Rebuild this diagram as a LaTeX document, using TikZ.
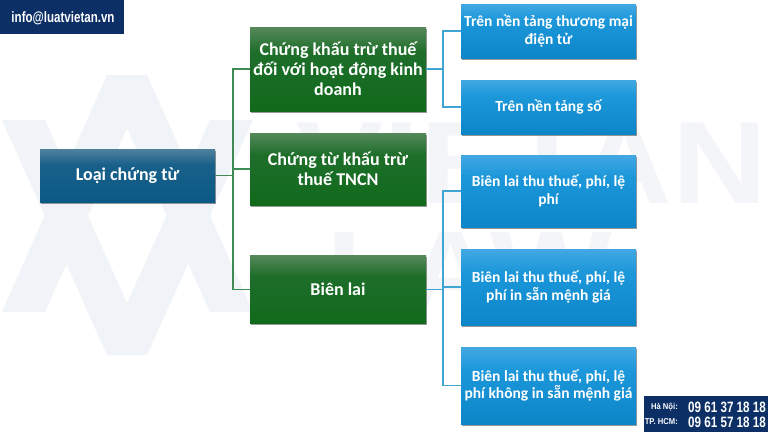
\documentclass[tikz,border=0pt]{standalone}
\usepackage{fontspec}
\setmainfont{Carlito}
\newfontfamily\wmfont{Liberation Sans}
\newfontfamily\ctfont{Liberation Sans}
\usetikzlibrary{shadows,calc}
\definecolor{wm}{HTML}{F0F3F7}
\definecolor{wmb}{HTML}{F3F5F8}
\definecolor{navy}{HTML}{0C2F66}
\definecolor{lgreen}{HTML}{3F8A55}
\definecolor{lblue}{HTML}{3FA6D4}
\definecolor{r1}{HTML}{4F819D}
\definecolor{r2}{HTML}{18608A}
\definecolor{r3}{HTML}{0A5A85}
\definecolor{g1}{HTML}{56885A}
\definecolor{g2}{HTML}{1E6E2A}
\definecolor{g3}{HTML}{116A1C}
\definecolor{b1}{HTML}{43A8E2}
\definecolor{b2}{HTML}{1B97DA}
\definecolor{b3}{HTML}{0D86C8}
\pgfdeclareverticalshading{rootsh}{100bp}{color(0bp)=(r3); color(25bp)=(r3); color(60bp)=(r2); color(75bp)=(r1); color(100bp)=(r1)}
\pgfdeclareverticalshading{greensh}{100bp}{color(0bp)=(g3); color(25bp)=(g3); color(60bp)=(g2); color(75bp)=(g1); color(100bp)=(g1)}
\pgfdeclareverticalshading{bluesh}{100bp}{color(0bp)=(b3); color(25bp)=(b3); color(60bp)=(b2); color(75bp)=(b1); color(100bp)=(b1)}
\tikzset{
  card/.style={rectangle,text=white,align=center,font=\bfseries,inner sep=0pt,anchor=center,
    drop shadow={shadow xshift=0.5pt,shadow yshift=-1.5pt,fill=black,opacity=.4}},
  rootcard/.style={card,shading=rootsh},
  greencard/.style={card,shading=greensh,font=\bfseries\fontsize{18}{20}\selectfont},
  bluecard/.style={card,shading=bluesh,font=\bfseries\fontsize{15.5}{17.5}\selectfont},
  glink/.style={draw=lgreen,line width=1.2pt},
  blink/.style={draw=lblue,line width=1.2pt},
  wmtext/.style={text=wmb,inner sep=0pt,font=\wmfont\bfseries},
  navybox/.style={fill=navy,draw=none},
  infotext/.style={text=white,inner sep=0pt,font=\ctfont\bfseries}
}
\begin{document}
\begin{tikzpicture}[x=1pt,y=-1pt]
\useasboundingbox (0,0) rectangle (768,432);
\fill[white] (0,0) rectangle (768,432);
% watermark
\fill[wm] (107,75)--(147,75)--(253,312)--(210,312)--(127,128)--(45,312)--(2,312)--cycle;
\fill[wm] (2,120)--(45,120)--(127,303)--(210,120)--(253,120)--(147,355)--(107,355)--cycle;
\node[wmtext,anchor=base west,font=\wmfont\bfseries\fontsize{117}{117}\selectfont,xscale=1.12] (wmv) at (296,203) {VIETAN};
\node[wmtext,anchor=base west,font=\wmfont\bfseries\fontsize{113}{113}\selectfont,xscale=1.14] (wml) at (326,310) {LAW};
% header and footer
\fill[navybox] (0,0) rectangle (124,34);
\node[infotext,font=\ctfont\bfseries\fontsize{15}{16}\selectfont,xscale=.77] (mail) at (63,18) {info@luatvietan.vn};
\fill[navybox] (644,396) rectangle (768,432);
\node[infotext,anchor=east,font=\ctfont\bfseries\fontsize{8.5}{9}\selectfont,xscale=.9] (l1) at (678,407.5) {Hà Nội:};
\node[infotext,anchor=east,font=\ctfont\bfseries\fontsize{8.5}{9}\selectfont,xscale=.9] (l2) at (678,422) {TP. HCM:};
\node[infotext,anchor=east,font=\ctfont\bfseries\fontsize{15}{16}\selectfont,xscale=.776] (p1) at (766,407.5) {09 61 37 18 18};
\node[infotext,anchor=east,font=\ctfont\bfseries\fontsize{15}{16}\selectfont,xscale=.776] (p2) at (766,422) {09 61 57 18 18};
\coordinate (rj) at (233,175);
\coordinate (ga) at (443,69);
\coordinate (gb) at (443,289.5);
% nodes
\node[rootcard,minimum width=175pt,minimum height=53pt,font=\bfseries\fontsize{18}{20}\selectfont] (root) at (127.5,175.5) {\raisebox{1pt}{Loại chứng từ}};
\node[greencard,minimum width=176pt,minimum height=84pt] (g1n) at (338,69) {Chứng khấu trừ thuế\\đối với hoạt động kinh\\\raisebox{0pt}{doanh}};
\node[greencard,minimum width=176pt,minimum height=72pt] (g2n) at (338,169) {Chứng từ khấu trừ\\thuế TNCN};
\node[greencard,minimum width=176pt,minimum height=68pt] (g3n) at (338,289.5) {Biên lai};
\node[bluecard,minimum width=175pt,minimum height=54pt] (b1n) at (548.5,31) {Trên nền tảng thương mại\\điện tử};
\node[bluecard,minimum width=175pt,minimum height=54pt] (b2n) at (548.5,107) {Trên nền tảng số};
\node[bluecard,minimum width=175pt,minimum height=72pt] (b3n) at (548.5,191) {Biên lai thu thuế, phí, lệ\\phí};
\node[bluecard,minimum width=175pt,minimum height=76pt] (b4n) at (548.5,287) {Biên lai thu thuế, phí, lệ\\phí in sẵn mệnh giá};
\node[bluecard,minimum width=175pt,minimum height=77pt] (b5n) at (548.5,385.5) {Biên lai thu thuế, phí, lệ\\phí không in sẵn mệnh giá};
% connectors
\draw[glink] (root.east) -- (root.east -| rj);
\draw[glink] (g1n.west) -| (g3n.west -| rj) -- (g3n.west);
\draw[glink] (g2n.west) -- (g2n.west -| rj);
\draw[blink] (g1n.east) -- (ga);
\draw[blink] (b1n.west) -| (ga) |- (b2n.west);
\draw[blink] (g3n.east) -- (gb);
\draw[blink] (b3n.west) -| (gb) |- (b5n.west);
\draw[blink] (b4n.west) -- (b4n.west -| gb);
\end{tikzpicture}
\end{document}
